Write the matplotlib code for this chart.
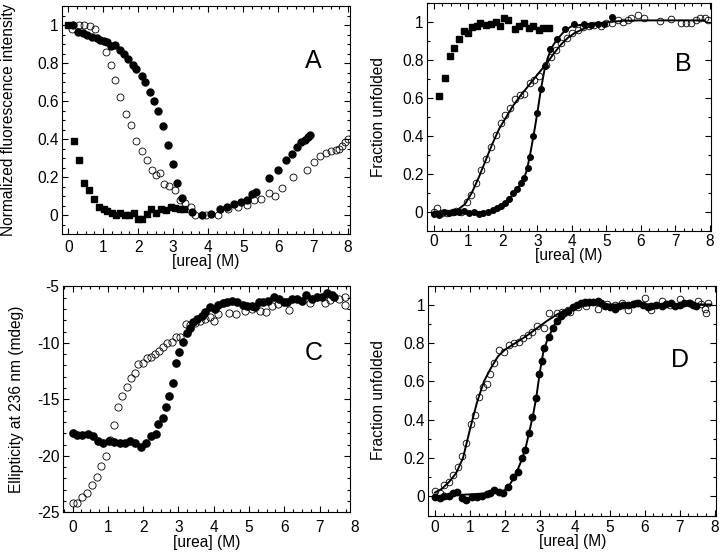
import matplotlib
import matplotlib.pyplot as plt
from matplotlib.ticker import MultipleLocator, FormatStrFormatter

matplotlib.use("Agg")

# ---------------- panel A ----------------
a_sq_x = [0.0, 0.16, 0.30, 0.46, 0.60, 0.74, 0.89, 1.03, 1.12, 1.24, 1.36, 1.48, 1.62, 1.74,
          1.89, 2.0, 2.12, 2.24, 2.36, 2.50, 2.65, 2.78, 2.93, 3.05, 3.19, 3.31]
a_sq_y = [1.0, 0.39, 0.29, 0.17, 0.13, 0.085, 0.04, 0.03, 0.02, 0.01, 0.0, 0.01, 0.0, 0.0,
          0.01, -0.02, -0.02, 0.005, 0.03, 0.01, 0.03, 0.025, 0.04, 0.035, 0.03, 0.03]

a_fill_x = [0.14, 0.27, 0.41, 0.54, 0.67, 0.81, 0.90, 1.03, 1.12, 1.22, 1.33, 1.48, 1.60, 1.71,
            1.84, 1.95, 2.10, 2.19, 2.33, 2.45, 2.57, 2.71, 2.86, 2.98, 3.12, 3.24, 3.55, 3.83,
            4.08, 4.33, 4.55, 4.74, 4.93, 5.10, 5.24, 5.36, 5.74, 6.0, 6.21, 6.39, 6.54, 6.65,
            6.76, 6.84, 6.92]
a_fill_y = [1.0, 0.965, 0.96, 0.95, 0.94, 0.93, 0.92, 0.915, 0.91, 0.89, 0.895, 0.87, 0.85, 0.82,
            0.79, 0.77, 0.73, 0.70, 0.65, 0.60, 0.55, 0.47, 0.37, 0.27, 0.17, 0.09, 0.015, 0.0,
            0.005, 0.03, 0.045, 0.06, 0.07, 0.08, 0.11, 0.12, 0.195, 0.235, 0.29, 0.32, 0.36, 0.385,
            0.395, 0.41, 0.42]

a_open_x = [0.12, 0.30, 0.46, 0.62, 0.76, 1.08, 1.21, 1.33, 1.48, 1.64, 1.79, 1.93, 2.10, 2.24,
            2.38, 2.50, 2.62, 2.74, 2.88, 3.04, 3.20, 3.34, 3.50, 3.62, 3.95, 4.29, 4.57, 4.86,
            5.10, 5.31, 5.52, 5.74, 5.92, 6.10, 6.43, 6.81, 7.02, 7.19, 7.38, 7.52, 7.64, 7.73,
            7.83, 7.90, 8.0]
a_open_y = [0.98, 1.0, 1.0, 0.995, 0.98, 0.86, 0.79, 0.71, 0.62, 0.53, 0.475, 0.39, 0.335, 0.29,
            0.235, 0.21, 0.22, 0.165, 0.155, 0.13, 0.08, 0.065, 0.04, 0.0, 0.0, 0.0, 0.03, 0.04,
            0.055, 0.08, 0.085, 0.115, 0.10, 0.14, 0.20, 0.235, 0.28, 0.31, 0.325, 0.335, 0.34, 0.35,
            0.365, 0.385, 0.40]

# ---------------- panel B ----------------
b_sq_x = [0.16, 0.31, 0.46, 0.59, 0.73, 0.86, 0.98, 1.12, 1.24, 1.34, 1.50, 1.65, 1.79, 1.91,
          2.04, 2.16, 2.36, 2.47, 2.62, 2.76, 2.89, 3.04, 3.17, 3.33]
b_sq_y = [0.611, 0.708, 0.824, 0.866, 0.91, 0.954, 0.942, 0.977, 0.98, 0.995, 0.986, 0.991, 1.0,
          0.982, 1.02, 1.01, 0.965, 0.982, 0.995, 0.972, 0.98, 0.96, 0.968, 0.972]

b_fill_x = [0.0, 0.14, 0.29, 0.43, 0.58, 0.72, 0.87, 1.02, 1.16, 1.31, 1.43, 1.58, 1.72, 1.84,
            1.94, 2.07, 2.18, 2.31, 2.42, 2.52, 2.62, 2.72, 2.79, 2.89, 3.0, 3.1, 3.22, 3.36,
            3.57, 3.81, 4.07, 4.35, 4.56, 4.77, 4.95, 5.16]
b_fill_y = [-0.01, -0.015, 0.0, -0.005, -0.003, 0.0, 0.003, -0.005, 0.0, -0.01, -0.004, 0.0, 0.01,
            0.02, 0.03, 0.045, 0.065, 0.097, 0.12, 0.15, 0.18, 0.23, 0.29, 0.40, 0.52, 0.65, 0.77,
            0.86, 0.91, 0.963, 0.99, 0.99, 0.986, 0.99, 0.99, 1.03]

b_open_x = [0.0, 0.10, 0.24, 0.39, 0.55, 0.65, 0.78, 0.95, 1.07, 1.21, 1.36, 1.50, 1.65, 1.79,
            1.94, 2.06, 2.20, 2.35, 2.49, 2.62, 2.79, 2.91, 3.04, 3.25, 3.39, 3.54, 3.69, 3.86,
            4.02, 4.17, 4.32, 4.51, 4.66, 4.85, 5.0, 5.17, 5.33, 5.48, 5.63, 5.72, 5.92, 6.11,
            6.55, 6.89, 7.18, 7.32, 7.47, 7.61, 7.71, 7.86, 7.95]
b_open_y = [0.0, 0.018, -0.009, -0.005, -0.003, 0.005, 0.0, 0.053, 0.088, 0.153, 0.22, 0.276,
            0.343, 0.405, 0.467, 0.51, 0.546, 0.593, 0.616, 0.62, 0.678, 0.695, 0.718, 0.775,
            0.819, 0.854, 0.889, 0.915, 0.942, 0.96, 0.974, 0.98, 0.986, 0.98, 0.995, 0.995,
            1.01, 1.003, 1.01, 1.02, 1.04, 1.02, 1.007, 1.016, 0.998, 0.995, 0.998, 1.01, 1.02,
            1.02, 1.01]

b_fit_open_x = [0.0, 0.4, 0.7, 0.9, 1.1, 1.3, 1.5, 1.7, 1.9, 2.1, 2.3, 2.5, 2.7, 2.9, 3.1, 3.3,
                3.5, 3.7, 3.9, 4.1, 4.4, 4.7, 5.0, 5.5, 6.0, 7.0, 7.85]
b_fit_open_y = [0.0, 0.003, 0.012, 0.04, 0.1, 0.18, 0.27, 0.36, 0.44, 0.5, 0.56, 0.61, 0.655,
                0.70, 0.745, 0.79, 0.84, 0.885, 0.92, 0.945, 0.97, 0.99, 1.0, 1.008, 1.01, 1.01,
                1.01]
b_fit_fill_x = [0.0, 1.6, 1.8, 2.0, 2.2, 2.4, 2.6, 2.7, 2.8, 2.9, 3.0, 3.1, 3.2, 3.3, 3.4, 3.5,
                3.6, 3.8, 4.0, 4.4, 5.0]
b_fit_fill_y = [-0.005, 0.0, 0.01, 0.035, 0.07, 0.115, 0.17, 0.22, 0.31, 0.41, 0.52, 0.64, 0.74,
                0.81, 0.86, 0.89, 0.915, 0.955, 0.98, 0.99, 0.995]

# ---------------- panel C ----------------
c_fill_x = [0.0, 0.13, 0.28, 0.43, 0.59, 0.73, 0.87, 1.03, 1.18, 1.34, 1.49, 1.63, 1.77, 1.94,
            2.08, 2.22, 2.37, 2.43, 2.55, 2.65, 2.74, 2.84, 2.93, 3.03, 3.12, 3.24, 3.33, 3.42,
            3.54, 3.66, 3.76, 3.90, 4.04, 4.13, 4.26, 4.39, 4.53, 4.67, 4.82, 4.94, 5.08, 5.17,
            5.27, 5.41, 5.55, 5.71, 5.86, 5.98, 6.09, 6.21, 6.36, 6.50, 6.62, 6.78, 6.92, 7.07,
            7.21, 7.35, 7.42]
c_fill_y = [-18.0, -18.16, -18.16, -18.07, -18.22, -18.69, -18.9, -18.69, -18.8, -18.84, -18.84,
            -18.69, -18.9, -19.25, -18.84, -18.22, -18.07, -17.18, -16.68, -15.65, -14.68, -13.53,
            -11.76, -10.78, -9.9, -9.1, -8.72, -8.13, -7.92, -7.63, -7.24, -6.86, -7.04, -6.65,
            -6.5, -6.42, -6.27, -6.36, -6.65, -6.71, -6.74, -6.86, -6.36, -6.36, -6.27, -5.97,
            -6.15, -6.36, -6.36, -6.15, -6.12, -6.27, -5.77, -6.15, -5.97, -5.91, -5.56, -5.77,
            -5.91]

c_open_x = [0.0, 0.13, 0.28, 0.42, 0.56, 0.68, 0.82, 0.95, 1.06, 1.18, 1.30, 1.41, 1.53, 1.65,
            1.77, 1.86, 1.99, 2.12, 2.21, 2.34, 2.45, 2.57, 2.69, 2.81, 2.93, 3.05, 3.22, 3.33,
            3.47, 3.61, 3.76, 3.90, 4.0, 4.13, 4.42, 4.64, 4.89, 5.08, 5.31, 5.49, 5.65, 5.81,
            6.12, 6.72, 7.16, 7.30, 7.54, 7.73, 7.73]
c_open_y = [-24.2, -24.14, -23.67, -23.26, -22.58, -21.84, -20.9, -20.01, -18.6, -17.27, -15.71,
            -14.71, -13.94, -13.14, -12.7, -11.9, -11.76, -11.37, -11.22, -10.99, -10.69, -10.4,
            -9.99, -9.9, -9.45, -9.45, -8.33, -8.42, -8.27, -8.04, -7.92, -7.68, -8.07, -7.45,
            -7.33, -7.45, -7.15, -7.04, -7.15, -7.3, -6.74, -6.56, -7.09, -6.5, -6.45, -6.21,
            -6.15, -5.97, -6.65]

# ---------------- panel D ----------------
d_fill_x = [0.0, 0.14, 0.27, 0.40, 0.52, 0.62, 0.76, 0.90, 1.05, 1.19, 1.33, 1.48, 1.57, 1.70,
            1.83, 1.95, 2.10, 2.24, 2.36, 2.48, 2.57, 2.69, 2.78, 2.89, 2.98, 3.05, 3.12, 3.26,
            3.38, 3.48, 3.60, 3.70, 3.81, 3.95, 4.05, 4.17, 4.29, 4.40, 4.52, 4.65, 4.74, 4.86,
            5.0, 5.14, 5.26, 5.38, 5.52, 5.67, 5.81, 5.95, 6.08, 6.19, 6.33, 6.48, 6.62, 6.74,
            6.86, 7.0, 7.12, 7.26, 7.38, 7.48]
d_fill_y = [-0.002, -0.01, 0.002, 0.002, 0.016, 0.024, -0.01, -0.019, -0.002, -0.002, 0.002,
            0.01, 0.016, 0.033, 0.024, 0.019, 0.047, 0.103, 0.129, 0.198, 0.242, 0.329, 0.412,
            0.511, 0.637, 0.708, 0.772, 0.83, 0.877, 0.917, 0.941, 0.958, 0.969, 0.986, 0.998,
            1.007, 1.016, 1.016, 1.016, 1.021, 1.007, 0.993, 0.986, 0.976, 0.993, 0.998, 0.998,
            1.003, 1.007, 0.998, 0.986, 0.993, 0.998, 0.993, 1.003, 1.01, 0.993, 0.998, 1.007,
            1.01, 0.998, 0.993]

d_open_x = [0.0, 0.14, 0.27, 0.40, 0.52, 0.67, 0.78, 0.90, 1.03, 1.14, 1.26, 1.38, 1.48, 1.57,
            1.70, 1.83, 1.98, 2.11, 2.27, 2.40, 2.52, 2.67, 2.78, 2.93, 3.12, 3.27, 3.48, 3.62,
            3.79, 3.86, 4.10, 4.33, 4.67, 4.93, 5.14, 5.35, 5.52, 5.76, 6.0, 6.17, 6.48, 6.71,
            7.0, 7.29, 7.52, 7.62, 7.71, 7.76, 7.81]
d_open_y = [0.03, 0.016, 0.059, 0.077, 0.111, 0.151, 0.21, 0.277, 0.377, 0.424, 0.52, 0.572,
            0.586, 0.638, 0.694, 0.763, 0.755, 0.79, 0.802, 0.807, 0.824, 0.842, 0.859, 0.889,
            0.877, 0.955, 0.958, 0.963, 0.972, 0.963, 0.99, 0.993, 0.976, 1.003, 0.998, 1.007,
            0.972, 1.007, 1.033, 0.972, 1.021, 0.998, 1.028, 1.01, 1.021, 1.003, 0.976, 0.958,
            1.007]

d_fit_open_x = [0.0, 0.2, 0.4, 0.6, 0.8, 1.0, 1.2, 1.4, 1.6, 1.8, 2.0, 2.3, 2.6, 2.9, 3.2, 3.5,
                3.8, 4.1, 4.5, 5.0, 6.0, 7.0, 7.9]
d_fit_open_y = [0.02, 0.04, 0.075, 0.12, 0.2, 0.35, 0.49, 0.6, 0.67, 0.73, 0.765, 0.80, 0.835,
                0.875, 0.915, 0.95, 0.975, 0.99, 1.0, 1.0, 1.0, 1.0, 1.0]
d_fit_fill_x = [0.0, 1.9, 2.1, 2.3, 2.5, 2.6, 2.7, 2.8, 2.9, 3.0, 3.1, 3.2, 3.3, 3.4, 3.5, 3.7,
                3.9, 4.2, 4.6, 5.0, 6.0, 7.0, 7.9]
d_fit_fill_y = [0.0, 0.02, 0.05, 0.11, 0.2, 0.26, 0.34, 0.42, 0.52, 0.65, 0.755, 0.81, 0.85,
                0.89, 0.92, 0.955, 0.98, 0.995, 1.0, 1.0, 1.0, 1.0, 1.0]

X_LABEL = "[urea] (M)"
FS = 11.2

plt.rcParams["font.family"] = ["Liberation Sans", "DejaVu Sans"]
plt.rcParams["font.size"] = FS


def style_axes(ax, ymajor, yminor, xpad):
    ax.xaxis.set_major_locator(MultipleLocator(1))
    ax.xaxis.set_minor_locator(MultipleLocator(0.25))
    ax.yaxis.set_major_locator(MultipleLocator(ymajor))
    ax.yaxis.set_minor_locator(MultipleLocator(yminor))
    ax.yaxis.set_major_formatter(FormatStrFormatter("%g"))
    ax.tick_params(which="both", direction="in", top=True, right=True, width=0.8)
    ax.tick_params(which="major", length=4)
    ax.tick_params(which="minor", length=2.2)
    ax.tick_params(axis="x", which="major", pad=xpad, labelsize=FS)
    ax.tick_params(axis="y", which="major", pad=2.5, labelsize=FS)
    for sp in ax.spines.values():
        sp.set_linewidth(0.8)


def open_pts(ax, x, y, ms=5.0):
    ax.plot(x, y, "o", ls="none", ms=ms, mfc="none", mec="black", mew=0.6)


def fill_pts(ax, x, y, ms=5.0, marker="o"):
    ax.plot(x, y, marker, ls="none", ms=ms, color="black")


def labels(ax, ytext, ylx, xly):
    ax.set_ylabel(ytext, fontsize=FS)
    ax.yaxis.set_label_coords(ylx, 0.5)
    ax.set_xlabel(X_LABEL, fontsize=FS)
    ax.xaxis.set_label_coords(0.5, xly)


fig = plt.figure(figsize=(7.2, 5.56), dpi=100)

# A
ax = fig.add_axes([0.086, 0.579, 0.400, 0.410])
open_pts(ax, a_open_x, a_open_y)
fill_pts(ax, a_fill_x, a_fill_y)
fill_pts(ax, a_sq_x, a_sq_y, ms=4.6, marker="s")
ax.set_xlim(-0.18, 8.05)
ax.set_ylim(-0.1, 1.1)
style_axes(ax, 0.2, 0.05, xpad=4.2)
labels(ax, "Normalized fluorescence intensity", -0.16, -0.088)
ax.text(7.0, 0.81, "A", fontsize=18, ha="center", va="center")

# B
ax = fig.add_axes([0.593, 0.585, 0.395, 0.409])
ax.plot(b_fit_open_x, b_fit_open_y, color="black", lw=1.4)
ax.plot(b_fit_fill_x, b_fit_fill_y, color="black", lw=1.4)
open_pts(ax, b_open_x, b_open_y, ms=4.8)
fill_pts(ax, b_fill_x, b_fill_y, ms=4.0)
fill_pts(ax, b_sq_x, b_sq_y, ms=4.6, marker="s")
ax.set_xlim(-0.2, 8.05)
ax.set_ylim(-0.1, 1.1)
style_axes(ax, 0.2, 0.1, xpad=2.0)
labels(ax, "Fraction unfolded", -0.144, -0.078)
ax.text(7.23, 0.78, "B", fontsize=18, ha="center", va="center")

# C
ax = fig.add_axes([0.0875, 0.0786, 0.399, 0.4064])
open_pts(ax, c_open_x, c_open_y, ms=5.2)
fill_pts(ax, c_fill_x, c_fill_y, ms=5.2)
ax.set_xlim(-0.27, 7.87)
ax.set_ylim(-25, -5)
style_axes(ax, 5, 1, xpad=5.3)
ax.text(8, -0.033, "8", transform=ax.get_xaxis_transform(), ha="center", va="top",
        fontsize=FS, clip_on=False)
labels(ax, "Ellipticity at 236 nm (mdeg)", -0.136, -0.099)
ax.text(6.83, -10.9, "C", fontsize=18, ha="center", va="center")

# D
ax = fig.add_axes([0.595, 0.0728, 0.400, 0.4137])
ax.plot(d_fit_open_x, d_fit_open_y, color="black", lw=1.4)
ax.plot(d_fit_fill_x, d_fit_fill_y, color="black", lw=1.4)
open_pts(ax, d_open_x, d_open_y, ms=4.8)
fill_pts(ax, d_fill_x, d_fill_y, ms=4.6)
ax.set_xlim(-0.19, 8.05)
ax.set_ylim(-0.1, 1.1)
style_axes(ax, 0.2, 0.1, xpad=3.0)
labels(ax, "Fraction unfolded", -0.146, -0.081)
ax.text(7.0, 0.713, "D", fontsize=18, ha="center", va="center")

fig.savefig("out.png", dpi=100)
plt.close(fig)
